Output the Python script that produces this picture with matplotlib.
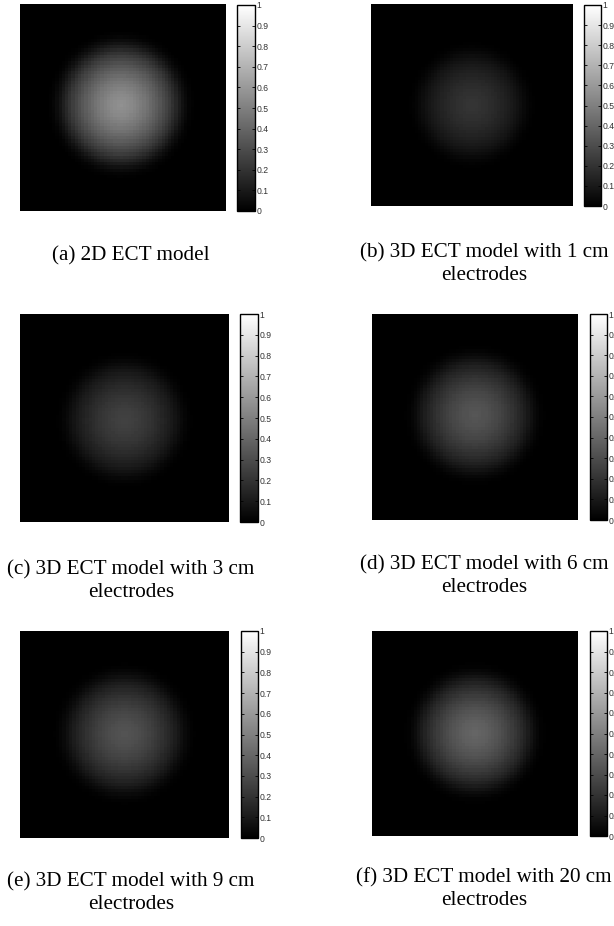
import numpy as np
import matplotlib
matplotlib.use("Agg")
import matplotlib.pyplot as plt

# ---------------- data ----------------
panel_labels = ["(a) 2D ECT model",
                "(b) 3D ECT model with 1 cm\nelectrodes",
                "(c) 3D ECT model with 3 cm\nelectrodes",
                "(d) 3D ECT model with 6 cm\nelectrodes",
                "(e) 3D ECT model with 9 cm\nelectrodes",
                "(f) 3D ECT model with 20 cm\nelectrodes"]
peak_values = [0.57, 0.21, 0.26, 0.34, 0.33, 0.40]      # centre intensity
blob_radius = [0.30, 0.27, 0.28, 0.29, 0.29, 0.29]      # fraction of image width
blob_cx = [0.49, 0.50, 0.50, 0.50, 0.50, 0.50]
blob_cy = [0.49, 0.50, 0.51, 0.49, 0.50, 0.50]
profile_r = [0.0, 0.2, 0.4, 0.6, 0.8, 0.9, 1.0, 1.1, 1.2]    # normalised radius
profile_v = [1.0, 0.93, 0.80, 0.62, 0.40, 0.26, 0.12, 0.03, 0.0]
cbar_ticks = [0, 0.1, 0.2, 0.3, 0.4, 0.5, 0.6, 0.7, 0.8, 0.9, 1]
cbar_ticklabels = ["0", "0.1", "0.2", "0.3", "0.4", "0.5", "0.6", "0.7", "0.8", "0.9", "1"]
grid_n = 64

# ---------------- layout ----------------
W, H = 614, 926
fig = plt.figure(figsize=(W / 100, H / 100), dpi=100)

def rect(x0, x1, y0, y1):
    return [x0 / W, 1 - y1 / H, (x1 - x0) / W, (y1 - y0) / H]

img_boxes = [(20, 226, 4, 211), (371, 573, 4, 206),
             (20, 229, 314, 522), (372, 578, 314, 520),
             (20, 229, 631, 838), (372, 578, 631, 836)]
cb_boxes = [(237, 255, 5, 211), (584, 601, 5, 206),
            (240, 258, 314, 522), (590, 607, 314, 520),
            (241, 258, 631, 838), (590, 607, 631, 836)]
cap_pos = [(131, 256), (484, 264), (131, 581), (484, 576), (131, 893), (484, 889)]

coords = (np.arange(grid_n) + 0.5) / grid_n
X, Y = np.meshgrid(coords, coords)

for i in range(6):
    r = np.hypot(X - blob_cx[i], Y - blob_cy[i]) / blob_radius[i]
    field = peak_values[i] * np.interp(r, profile_r, profile_v)
    ax = fig.add_axes(rect(*img_boxes[i]))
    im = ax.imshow(field, cmap="gray", vmin=0, vmax=1, interpolation="nearest",
                   aspect="auto")
    ax.axis("off")

    cax = fig.add_axes(rect(*cb_boxes[i]))
    cb = fig.colorbar(im, cax=cax, ticks=cbar_ticks)
    cb.ax.set_yticklabels(cbar_ticklabels)
    cb.outline.set_linewidth(1.0)
    cb.outline.set_edgecolor("black")
    cax.tick_params(axis="y", direction="in", left=True, right=True, length=2,
                    width=0.6, labelsize=6.2, pad=1, colors="black",
                    labelcolor="#333333")
    for t in cax.get_yticklabels():
        t.set_fontfamily("Liberation Sans")

    x, y = cap_pos[i]
    fig.text(x / W, 1 - y / H, panel_labels[i], ha="center", va="center",
             family="Liberation Serif", fontsize=15.2, linespacing=1.2)

fig.savefig("out.png", dpi=100)
